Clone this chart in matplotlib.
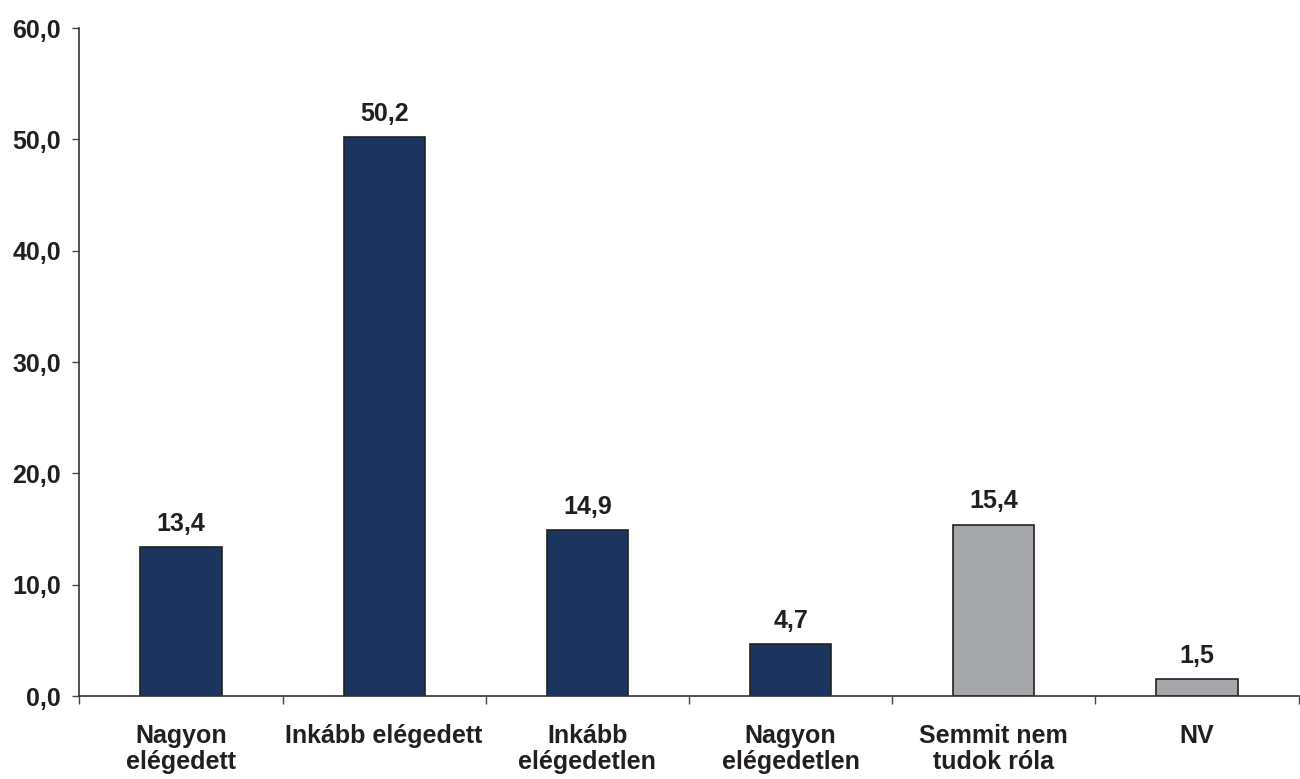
import numpy as np
import matplotlib.pyplot as plt

categories = ['Nagyon\nelégedett', 'Inkább elégedett', 'Inkább\nelégedetlen',
              'Nagyon\nelégedetlen', 'Semmit nem\ntudok róla', 'NV']
values = [13.4, 50.2, 14.9, 4.7, 15.4, 1.5]
bar_colors = ['#1c355e', '#1c355e', '#1c355e', '#1c355e', '#a6a7ab', '#a6a7ab']
y_ticks = [0, 10, 20, 30, 40, 50, 60]

plt.rcParams['font.family'] = ['Liberation Sans', 'DejaVu Sans']
plt.rcParams['font.weight'] = 'bold'

fig = plt.figure(figsize=(13, 7.79), dpi=100)
ax = fig.add_axes([0.061, 0.1065, 0.938, 0.8575])

x = np.arange(len(categories))
bars = ax.bar(x, values, width=0.4, color=bar_colors, edgecolor='#222222', linewidth=1.2, zorder=2)

for xi, v in zip(x, values):
    ax.text(xi, v + 1.0, f'{v:.1f}'.replace('.', ','), ha='center', va='bottom',
            fontsize=18, fontweight='bold', color='#231f20')

ax.set_xlim(-0.5, len(categories) - 0.5)
ax.set_ylim(0, 60)
ax.set_yticks(y_ticks)
ax.set_yticklabels([f'{t:.1f}'.replace('.', ',') for t in y_ticks], fontsize=18,
                   fontweight='bold', color='#231f20')

# category labels centred, ticks between categories
ax.set_xticks(x)
ax.set_xticklabels(categories, fontsize=18, fontweight='bold', color='#231f20', linespacing=1.1)
ax.tick_params(axis='x', length=0, pad=20)
ax.set_xticks(np.arange(-0.5, len(categories), 1), minor=True)
ax.tick_params(axis='x', which='minor', length=6, width=1, color='#444444', direction='out')
ax.tick_params(axis='y', length=5, width=1, color='#444444', direction='out', pad=8)

for side in ['top', 'right']:
    ax.spines[side].set_visible(False)
for side in ['left', 'bottom']:
    ax.spines[side].set_color('#333333')
    ax.spines[side].set_linewidth(1.2)

fig.savefig('out.png', dpi=100, facecolor='white')
